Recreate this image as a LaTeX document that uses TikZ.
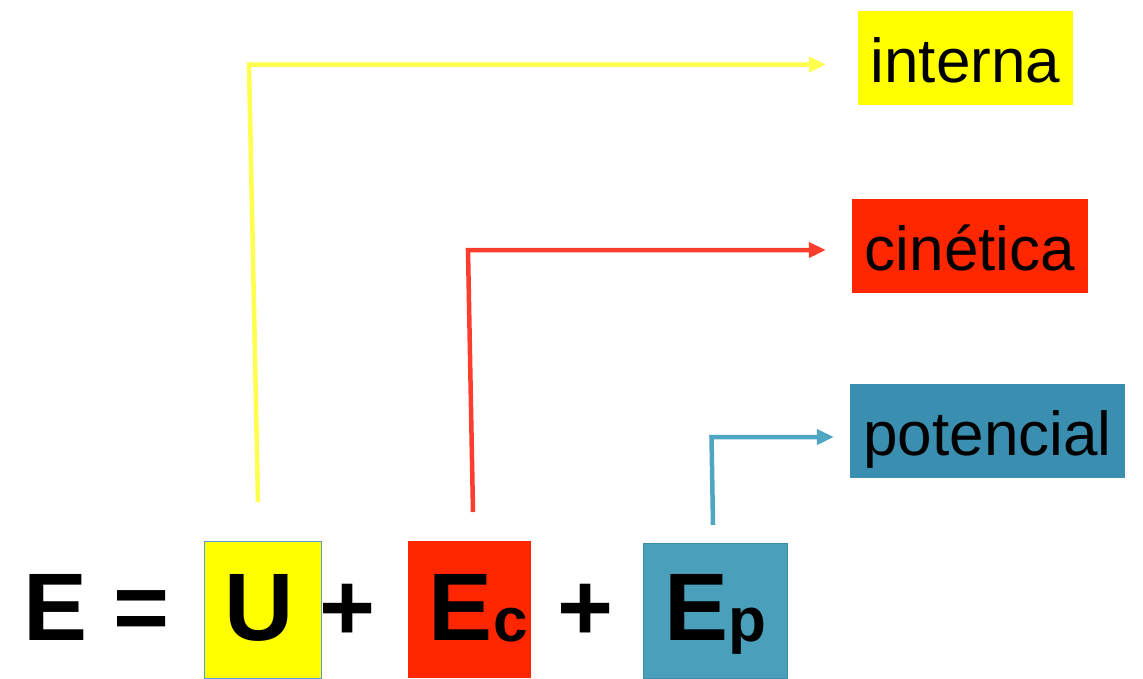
\documentclass[tikz,border=0pt]{standalone}
\usepackage{fontspec}
\setmainfont{Liberation Sans}
\usetikzlibrary{arrows.meta}
\definecolor{ybox}{HTML}{FFFF00}
\definecolor{yline}{HTML}{FFFF4D}
\definecolor{rbox}{HTML}{FF2600}
\definecolor{rline}{HTML}{FF3D2E}
\definecolor{bbox}{HTML}{3A8FB1}
\definecolor{epbox}{HTML}{4A9FBB}
\definecolor{epedge}{HTML}{3D8CAB}
\definecolor{bline}{HTML}{4FA6C2}
\definecolor{uedge}{HTML}{5B9BD5}
\begin{document}
\begin{tikzpicture}[x=1pt,y=-1pt,
  lbl/.style={inner sep=0pt, text height=48pt, text depth=0pt, minimum height=94pt, font=\fontsize{62}{70}\selectfont},
  big/.style={inner sep=0pt, anchor=base, font=\fontsize{96}{110}\selectfont\bfseries},
  subtxt/.style={inner sep=0pt, anchor=base, font=\fontsize{62}{70}\selectfont\bfseries},
  conn/.style={line width=4.5pt, -{Triangle[length=17pt,width=15pt]}},
  eqbox/.style={inner sep=0pt, anchor=north west}]
\useasboundingbox (0,0) rectangle (1143,678);
% equation boxes
\node[eqbox, fill=ybox, draw=uedge, line width=1pt, minimum width=117pt, minimum height=137pt] (ubox) at (204,541) {};
\node[eqbox, fill=rbox, minimum width=123pt, minimum height=137pt] (ecbox) at (408,541) {};
\node[eqbox, fill=epbox, draw=epedge, line width=1pt, minimum width=144pt, minimum height=135pt] (epbox) at (643,543) {};
% equation text
\node[big] (e) at (55.5,640) {E};
\node[big] (eq) at (141.5,640) {=};
\node[big] (u) at (259,640) {U};
\node[big] (p1) at (348,640) {+};
\node[big] (ec) at (460.5,640) {E};
\node[subtxt] (c) at (510.5,641) {c};
\node[big] (p2) at (585.5,640) {+};
\node[big] (ep) at (697,640) {E};
\node[subtxt] (p) at (747,641) {p};
% labels
\node[lbl, fill=ybox, minimum width=215pt] (interna) at (965.5,58) {interna};
\node[lbl, fill=rbox, minimum width=236pt] (cinetica) at (970,246) {cinética};
\node[lbl, fill=bbox, minimum width=275pt] (potencial) at (987.5,431) {potencial};
% connectors
\coordinate (ys) at (258,502);
\coordinate (yc) at (249,64.5);
\coordinate (rs) at (473,512);
\coordinate (rc) at (468,250);
\coordinate (bs) at (713,525);
\coordinate (bc) at (711.5,437);
\draw[conn, yline, shorten >=32pt] (ys) -- (yc) -- (yc -| interna.west);
\draw[conn, rline, shorten >=26pt] (rs) -- (rc) -- (rc -| cinetica.west);
\draw[conn, bline, shorten >=16pt] (bs) -- (bc) -- (bc -| potencial.west);
\end{tikzpicture}
\end{document}
